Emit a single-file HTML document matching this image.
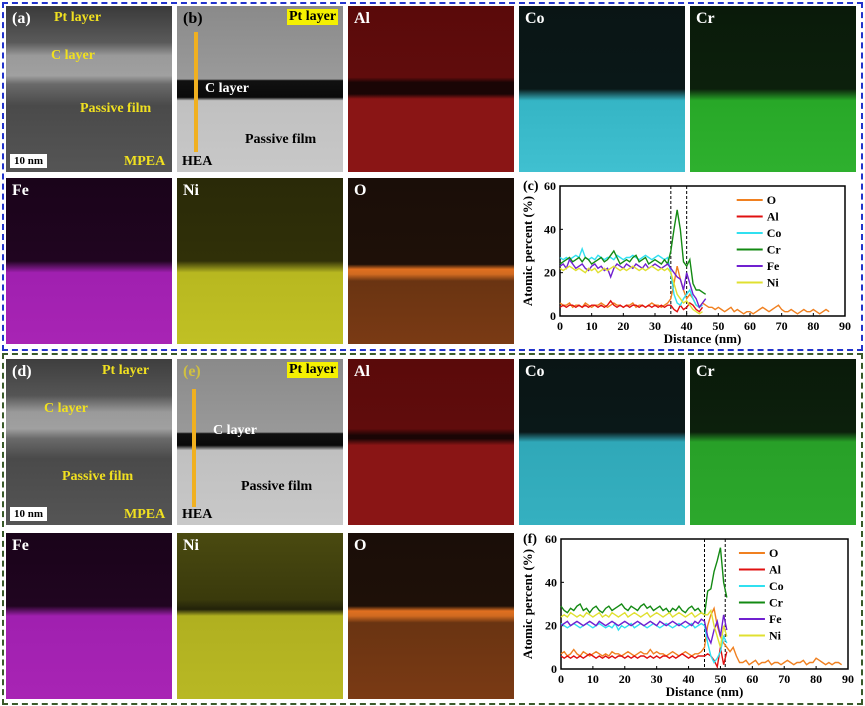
<!DOCTYPE html>
<html><head><meta charset="utf-8"><style>
body{margin:0;width:865px;height:706px;background:#fff;position:relative;overflow:hidden;font-family:"Liberation Serif",serif}
.box{position:absolute;border:2px dashed}
.p{position:absolute;width:166px;height:166px;overflow:hidden}
.lab{position:absolute;left:6px;top:4px;font-weight:bold;font-size:16px;color:#fff}
.t{position:absolute;font-weight:bold;font-size:14px;white-space:nowrap}
.y{color:#f0e020}
.hl{background:#f5f000;color:#000;padding:0 2px}
svg text{font-family:"Liberation Serif",serif;font-weight:bold}
</style></head><body>
<div class="box" style="left:2px;top:2px;width:857px;height:345px;border-color:#2233cc"></div>
<div class="box" style="left:2px;top:353px;width:857px;height:348px;border-color:#3a5a2a"></div>

<!-- top row 1 -->
<div class="p" style="left:6px;top:6px;background:linear-gradient(#3a3a3a 0%,#5a5a5a 22%,#9a9a9a 30%,#a0a0a0 42%,#6a6a6a 47%,#4a4a4a 60%,#555 100%)">
<span class="lab">(a)</span><span class="t y" style="left:48px;top:4px">Pt layer</span><span class="t y" style="left:45px;top:42px">C layer</span>
<span class="t y" style="left:74px;top:95px">Passive film</span><span class="t y" style="left:118px;top:148px">MPEA</span>
<span class="t" style="left:4px;top:148px;background:#fff;color:#000;font-size:11px;padding:1px 4px">10 nm</span></div>
<div class="p" style="left:177px;top:6px;background:linear-gradient(#8a8a8a 0%,#9a9a9a 44%,#111 45%,#0a0a0a 55%,#c0c0c0 57%,#c8c8c8 100%)">
<span class="lab" style="color:#000">(b)</span><span class="t hl" style="left:110px;top:3px">Pt layer</span><span class="t" style="left:28px;top:75px;color:#fff">C layer</span>
<span class="t" style="left:68px;top:126px;color:#000">Passive film</span><span class="t" style="left:5px;top:148px;color:#000">HEA</span>
<div style="position:absolute;left:17px;top:26px;width:4px;height:120px;background:#f0b020"></div></div>
<div class="p" style="left:348px;top:6px;background:linear-gradient(#5a0a0a 0%,#600c0c 43%,#1a0505 46%,#1a0505 53%,#8a1515 56%,#8a1515 100%)"><span class="lab">Al</span></div>
<div class="p" style="left:519px;top:6px;background:linear-gradient(#0a1515 0%,#0a1818 50%,#35b5c5 57%,#40c0d0 100%)"><span class="lab">Co</span></div>
<div class="p" style="left:690px;top:6px;background:linear-gradient(#0a1a0a 0%,#0c200c 50%,#28a828 57%,#2eb02e 100%)"><span class="lab">Cr</span></div>
<!-- top row 2 -->
<div class="p" style="left:6px;top:178px;background:linear-gradient(#1a041a 0%,#200520 50%,#a020b0 57%,#a824b4 100%)"><span class="lab">Fe</span></div>
<div class="p" style="left:177px;top:178px;background:linear-gradient(#2a2a08 0%,#303008 50%,#b8b820 57%,#c0c024 100%)"><span class="lab">Ni</span></div>
<div class="p" style="left:348px;top:178px;background:linear-gradient(#1a0e08 0%,#1e1008 52%,#e07020 55%,#d06a20 58%,#6a3412 62%,#7a3a14 100%)"><span class="lab">O</span></div>
<svg id="chartC" style="position:absolute;left:519px;top:176px" width="340" height="170"></svg>

<!-- bottom row 1 -->
<div class="p" style="left:6px;top:359px;background:linear-gradient(#3e3e3e 0%,#555 22%,#9a9a9a 32%,#a0a0a0 42%,#6a6a6a 48%,#4a4a4a 60%,#555 100%)">
<span class="lab">(d)</span><span class="t y" style="left:96px;top:4px">Pt layer</span><span class="t y" style="left:38px;top:42px">C layer</span>
<span class="t y" style="left:56px;top:110px">Passive film</span><span class="t y" style="left:118px;top:148px">MPEA</span>
<span class="t" style="left:4px;top:148px;background:#fff;color:#000;font-size:11px;padding:1px 4px">10 nm</span></div>
<div class="p" style="left:177px;top:359px;background:linear-gradient(#8a8a8a 0%,#999 44%,#111 45%,#0a0a0a 52%,#c0c0c0 55%,#c8c8c8 100%)">
<span class="lab" style="color:#d0c040">(e)</span><span class="t hl" style="left:110px;top:3px">Pt layer</span><span class="t" style="left:36px;top:64px;color:#fff">C layer</span>
<span class="t" style="left:64px;top:120px;color:#000">Passive film</span><span class="t" style="left:5px;top:148px;color:#000">HEA</span>
<div style="position:absolute;left:15px;top:30px;width:4px;height:118px;background:#f0b020"></div></div>
<div class="p" style="left:348px;top:359px;background:linear-gradient(#5a0a0a 0%,#600c0c 42%,#1a0505 46%,#1a0505 48%,#8a1515 52%,#8a1515 100%)"><span class="lab">Al</span></div>
<div class="p" style="left:519px;top:359px;background:linear-gradient(#0a1515 0%,#0a1818 44%,#30a8b8 50%,#35b0c0 100%)"><span class="lab">Co</span></div>
<div class="p" style="left:690px;top:359px;background:linear-gradient(#0a1a0a 0%,#0c200c 44%,#28a028 50%,#2ca82c 100%)"><span class="lab">Cr</span></div>
<!-- bottom row 2 -->
<div class="p" style="left:6px;top:533px;background:linear-gradient(#1a041a 0%,#200520 44%,#a020b0 50%,#a824b4 100%)"><span class="lab">Fe</span></div>
<div class="p" style="left:177px;top:533px;background:linear-gradient(#4a4a10 0%,#3a3a0c 40%,#22220a 46%,#b0b020 50%,#b8b824 100%)"><span class="lab">Ni</span></div>
<div class="p" style="left:348px;top:533px;background:linear-gradient(#1a0e08 0%,#1e1008 44%,#e07020 47%,#d06a20 50%,#6a3412 54%,#7a3a14 100%)"><span class="lab">O</span></div>
<svg id="chartF" style="position:absolute;left:519px;top:528px" width="340" height="172"></svg>

<script>
const xTicks=[0,10,20,30,40,50,60,70,80,90];
const yTicks=[0,20,40,60];
const elements=["O","Al","Co","Cr","Fe","Ni"];
const colors={O:"#f08020",Al:"#e01010",Co:"#30e0f0",Cr:"#138a13",Fe:"#7020d0",Ni:"#e0e030"};
// chart c data (1 nm steps from 0)
const cO=[6,5,5,6,4,5,5,4,6,5,4,5,5,6,5,4,5,6,5,5,4,5,5,6,4,5,5,4,5,6,5,5,4,5,6,8,15,23,17,12,8,10,8,5,4,6,5,4,4,3,4,3,2,3,4,2,3,2,1,2,2,1,2,3,4,3,2,3,4,5,3,2,2,3,2,1,2,3,2,2,3,2,1,2,3,2];
const cAl=[4,5,4,5,5,4,5,4,5,4,5,5,4,5,4,5,7,5,4,5,4,5,4,5,5,4,5,4,5,4,5,4,5,4,5,5,3,2,5,3,4,6,5,3,2,4];
const cCo=[27,26,27,26,27,28,27,31,27,26,27,26,28,27,26,27,27,26,28,27,26,27,27,28,27,26,27,28,27,26,27,28,27,26,27,20,10,6,5,8,10,12,8,5,4,5];
const cCr=[24,25,26,27,25,26,27,25,27,26,24,25,26,27,25,26,28,30,27,24,25,26,25,27,28,25,26,27,24,25,26,25,24,26,24,30,40,49,40,25,23,26,15,12,12,11,10];
const cFe=[23,24,22,26,24,22,23,24,22,21,23,24,22,23,21,22,18,22,24,23,22,24,23,22,24,23,22,24,22,23,24,23,22,23,24,22,20,18,17,12,20,15,10,8,4,6,8];
const cNi=[22,21,22,23,22,21,22,21,20,22,21,22,20,21,22,21,22,23,22,21,22,21,22,23,22,21,22,21,22,23,22,21,22,21,22,20,15,10,8,6,7,5,3,2,1,2];
// chart f data
const fO=[7,8,6,7,9,7,6,8,7,6,7,8,7,6,7,6,8,7,7,6,7,8,7,6,7,8,7,7,9,7,8,7,7,6,7,8,7,6,7,8,7,6,7,7,8,10,20,25,28,20,15,12,10,8,10,6,3,3,4,2,3,4,2,3,3,4,2,3,3,2,3,4,3,2,3,3,4,2,3,3,5,4,3,2,3,2,3,3,2];
const fAl=[6,5,6,5,6,5,6,5,6,7,6,5,6,5,6,5,6,5,6,6,5,6,5,6,5,6,6,5,6,5,6,5,6,6,5,6,5,6,7,6,5,6,5,6,6,6,7,6,4,1,10,2,8];
const fCo=[21,20,19,20,21,20,19,20,21,20,19,20,21,20,19,20,19,21,18,20,19,20,21,19,20,21,20,19,20,21,20,19,20,21,20,19,20,21,20,19,20,21,19,20,21,20,12,6,3,5,8,15,12];
const fCr=[29,27,26,28,27,29,30,27,28,26,28,29,27,26,28,29,27,28,29,30,28,27,29,28,27,29,30,28,29,27,28,29,27,28,26,28,27,29,27,26,28,29,27,28,26,25,36,37,45,50,56,40,33];
const fFe=[20,21,22,20,21,22,21,20,21,22,21,20,22,21,20,21,22,21,20,21,22,21,20,21,22,21,20,21,22,21,20,22,21,20,21,22,21,20,21,22,21,20,22,21,23,22,15,12,18,22,15,25,18];
const fNi=[24,25,24,26,25,24,25,24,26,25,24,25,26,24,25,24,26,25,24,25,26,24,25,26,25,24,25,26,24,25,26,25,24,25,26,24,25,26,25,24,25,26,24,25,26,25,25,27,20,15,10,20,15];

function drawChart(svg,letter,ox,oy,w,h,data,dash){
  const NS="http://www.w3.org/2000/svg";
  const xS=v=>ox+v/90*w, yS=v=>oy+h-v/60*h;
  function el(tag,attrs,parent){const e=document.createElementNS(NS,tag);for(const k in attrs)e.setAttribute(k,attrs[k]);(parent||svg).appendChild(e);return e;}
  const bg=el("rect",{x:ox,y:oy,width:w,height:h,fill:"#fff",stroke:"#000","stroke-width":1.5});
  
  
  dash.forEach(d=>{const l=el("line",{x1:xS(d),x2:xS(d),y1:oy,y2:oy+h,stroke:"#000","stroke-dasharray":"3,2","stroke-width":1});
    
    });
  xTicks.forEach(t=>{el("line",{x1:xS(t),x2:xS(t),y1:oy+h,y2:oy+h-3,stroke:"#000"});
    const tx=el("text",{x:xS(t),y:oy+h+14,"text-anchor":"middle","font-size":12},null);tx.textContent=t;
    
    });
  yTicks.forEach(t=>{el("line",{x1:ox,x2:ox+3,y1:yS(t),y2:yS(t),stroke:"#000"});
    const tx=el("text",{x:ox-4,y:yS(t)+4,"text-anchor":"end","font-size":12});tx.textContent=t;
    
    });
  elements.forEach(k=>{const arr=data[k];
    const p=el("polyline",{points:arr.map((v,i)=>xS(i)+","+yS(v)).join(" "),fill:"none",stroke:colors[k],"stroke-width":1.4});
    
    });
  elements.forEach((k,i)=>{const ly=oy+14+i*16.5;
    const g=el("g",{});
    
    
    el("line",{x1:ox+w*0.62,x2:ox+w*0.62+26,y1:ly,y2:ly,stroke:colors[k],"stroke-width":2},g);
    const tx=el("text",{x:ox+w*0.62+30,y:ly+4,"font-size":12},g);tx.textContent=k;});
  const xt=el("text",{x:ox+w/2,y:oy+h+27,"text-anchor":"middle","font-size":13});xt.textContent="Distance (nm)";
  
  
  const yt=el("text",{x:0,y:0,"text-anchor":"middle","font-size":13,transform:`translate(13,${oy+h/2}) rotate(-90)`});yt.textContent="Atomic percent (%)";
  
  
  const pl=el("text",{x:4,y:oy+4,"font-size":14});pl.textContent=letter;
  
  
}
drawChart(document.getElementById("chartC"),"(c)",41,10,285,130,{O:cO,Al:cAl,Co:cCo,Cr:cCr,Fe:cFe,Ni:cNi},[35,40]);
drawChart(document.getElementById("chartF"),"(f)",42,11,287,130,{O:fO,Al:fAl,Co:fCo,Cr:fCr,Fe:fFe,Ni:fNi},[45,51.5]);
</script>
</body></html>
